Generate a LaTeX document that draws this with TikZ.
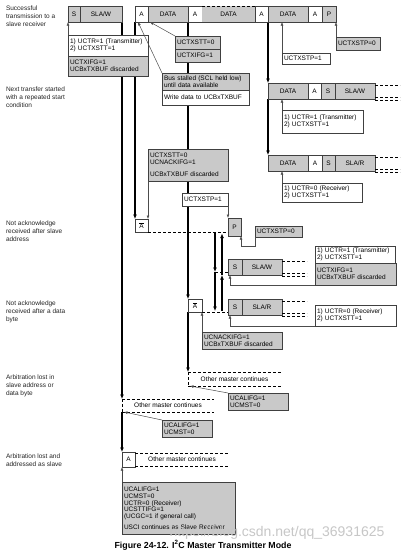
\documentclass[tikz,border=0pt]{standalone}
\usepackage{fontspec}
\setmainfont{Liberation Sans}
\usetikzlibrary{arrows.meta}
\pgfdeclarelayer{bg}
\pgfsetlayers{bg,main}
\newcommand\contlines[1]{%
  \draw[dsh] ([yshift=-2pt]#1.north east) -- ++(25,0);
  \draw[dsh] ([yshift=2pt]#1.south east) -- ++(25,0);
  \draw[dsh] ([yshift=-1pt]#1.south east) -- ++(25,0);}
\begin{document}
\begin{tikzpicture}[x=1pt,y=-1pt,
  every node/.style={font=\fontsize{6.5}{6.6}\selectfont, inner sep=0pt, outer sep=0pt},
  bx/.style={draw=black!75, line width=0.6pt, anchor=north west, align=left, inner xsep=2pt},
  gb/.style={bx, fill=black!21},
  wb/.style={bx, fill=white},
  hg/.style={draw=black!75, line width=0.6pt, anchor=north west, fill=black!21},
  hw/.style={draw=black!75, line width=0.6pt, anchor=north west, fill=white},
  main/.style={line width=1.3pt, -{Latex[length=4.5pt,width=4pt]}},
  thin/.style={line width=0.5pt, draw=black!70, -{Latex[length=3.5pt,width=2.8pt]}},
  dsh/.style={line width=0.8pt, dash pattern=on 3pt off 2pt},
  lbl/.style={anchor=north west, align=left, font=\fontsize{6.5}{8}\selectfont, text=black!85},
  band/.style={anchor=north west},
]
\begin{pgfonlayer}{bg}
\fill[white] (0,0) rectangle (410,552);
\end{pgfonlayer}
\useasboundingbox (0,0) rectangle (410,552);

% left labels
\node[lbl] (L1) at (6,5.3) {Successful\\transmission to a\\slave receiver};
\node[lbl] (L2) at (6,86.3) {Next transfer started\\with a repeated start\\condition};
\node[lbl] (L3) at (6,220.3) {Not acknowledge\\received after slave\\address};
\node[lbl] (L4) at (6,300.3) {Not acknowledge\\received after a data\\byte};
\node[lbl] (L5) at (6,374.3) {Arbitration lost in\\slave address or\\data byte};
\node[lbl] (L6) at (6,453.3) {Arbitration lost and\\addressed as slave};

% row 1
\node[hg, minimum width=12, minimum height=16] (r1s) at (68,6) {S};
\node[hg, minimum width=42, minimum height=16] (r1sla) at (80,6) {SLA/W};
\node[hw, minimum width=13, minimum height=16] (r1a1) at (135,6) {A};
\node[hg, minimum width=40, minimum height=16] (r1d1) at (148,6) {DATA};
\node[hw, minimum width=14, minimum height=16] (r1a2) at (188,6) {A};
\node[anchor=north west, fill=black!21, minimum width=53, minimum height=16] (r1d2) at (202,6) {DATA};
\draw[dsh] (r1d2.north west) -- (r1d2.north east);
\draw[line width=0.6pt, draw=black!75] (r1d2.south west) -- (r1d2.south east);
\node[hw, minimum width=13, minimum height=16] (r1a3) at (255,6) {A};
\node[hg, minimum width=40, minimum height=16] (r1d3) at (268,6) {DATA};
\node[hw, minimum width=14, minimum height=16] (r1a4) at (308,6) {A};
\node[hg, minimum width=14, minimum height=16] (r1p) at (322,6) {P};

% row 2
\node[hg, minimum width=40, minimum height=16] (r2d) at (268,83) {DATA};
\node[hw, minimum width=13, minimum height=16] (r2a) at (308,83) {A};
\node[hg, minimum width=14, minimum height=16] (r2s) at (321,83) {S};
\node[hg, minimum width=40, minimum height=16] (r2sla) at (335,83) {SLA/W};
\contlines{r2sla}

% row 3
\node[hg, minimum width=40, minimum height=16] (r3d) at (268,155) {DATA};
\node[hw, minimum width=14, minimum height=16] (r3a) at (308,155) {A};
\node[hg, minimum width=13, minimum height=16] (r3s) at (322,155) {S};
\node[hg, minimum width=40, minimum height=16] (r3sla) at (335,155) {SLA/R};
\contlines{r3sla}

% S SLA/W and S SLA/R rows
\node[hg, minimum width=14, minimum height=16] (s2) at (228,259) {S};
\node[hg, minimum width=40, minimum height=16] (s2sla) at (242,259) {SLA/W};
\contlines{s2sla}
\node[hg, minimum width=14, minimum height=16] (s3) at (228,299) {S};
\node[hg, minimum width=40, minimum height=16] (s3sla) at (242,299) {SLA/R};
\contlines{s3sla}

% small boxes
\node[hw, minimum width=13, minimum height=13] (abar1) at (135,219) {$\overline{\hbox{A}}$};
\node[hw, minimum width=14, minimum height=13] (abar2) at (188,299) {$\overline{\hbox{A}}$};
\node[hg, minimum width=13, minimum height=18] (p2) at (228,218) {P};
\node[hw, minimum width=13, minimum height=15] (a3) at (122,452) {A};

% annotation boxes
\node[wb, text width=76, minimum height=21] (n1a) at (68,35) {1) UCTR=1 (Transmitter)\\2) UCTXSTT=1};
\node[gb, text width=76, minimum height=20] (n1b) at (68,56) {UCTXIFG=1\\UCBxTXBUF discarded};
\node[gb, text width=41, minimum height=13] (n2a) at (175,36) {UCTXSTT=0};
\node[gb, text width=41, minimum height=13] (n2b) at (175,49) {UCTXIFG=1};
\node[gb, text width=83, minimum height=17] (n3a) at (162,73) {Bus stalled (SCL held low)\\until data available};
\node[wb, text width=83, minimum height=15] (n3b) at (162,90) {Write data to UCBxTXBUF};
\node[wb, text width=44, minimum height=11] (n4) at (282,53) {UCTXSTP=1};
\node[gb, text width=40, minimum height=13] (n5) at (336,37) {UCTXSTP=0};
\node[wb, text width=77, minimum height=23] (n6) at (282,110) {1) UCTR=1 (Transmitter)\\2) UCTXSTT=1};
\node[wb, text width=76, minimum height=19] (n7) at (282,183) {1) UCTR=0 (Receiver)\\2) UCTXSTT=1};
\node[gb, text width=76, minimum height=32] (n8) at (148,149) {UCTXSTT=0\\UCNACKIFG=1\\[6pt]UCBxTXBUF discarded};
\node[wb, text width=42, minimum height=13] (n9) at (182,193) {UCTXSTP=1};
\node[gb, text width=43, minimum height=11] (n10) at (255,226) {UCTXSTP=0};
\node[wb, text width=76, minimum height=17] (n11a) at (315,246) {1) UCTR=1 (Transmitter)\\2) UCTXSTT=1};
\node[gb, text width=77, minimum height=22] (n11b) at (315,263) {UCTXIFG=1\\UCBxTXBUF discarded};
\node[wb, text width=77, minimum height=21] (n12) at (315,305) {1) UCTR=0 (Receiver)\\2) UCTXSTT=1};
\node[gb, text width=76, minimum height=17] (n13) at (202,332) {UCNACKIFG=1\\UCBxTXBUF discarded};
\node[gb, text width=56, minimum height=17] (n14) at (228,393) {UCALIFG=1\\UCMST=0};
\node[gb, text width=46, minimum height=17] (n15) at (162,420) {UCALIFG=1\\UCMST=0};
\node[gb, text width=109, minimum height=52, font=\fontsize{6.5}{6.9}\selectfont] (n16) at (122,482) {UCALIFG=1\\UCMST=0\\UCTR=0 (Receiver)\\UCSTTIFG=1\\(UCGC=1 if general call)\\[3.5pt]USCI continues as Slave Receiver};

% bands
\node[band, minimum width=93, minimum height=14] (band1) at (188,372) {Other master continues};
\draw[dsh] (band1.north west) -- (band1.north east);
\draw[dsh] (band1.south west) -- (band1.south east);
\draw[dsh] (band1.north west) -- (band1.south west);
\node[band, minimum width=92, minimum height=13] (band2) at (122,399) {Other master continues};
\draw[dsh] (band2.north west) -- (band2.north east);
\draw[dsh] (band2.south west) -- (band2.south east);
\draw[dsh] (band2.north west) -- (band2.south west);
\node[band, minimum width=94, minimum height=13] (band3) at (135,453) {Other master continues};
\draw[dsh] (band3.north west) -- (band3.north east);
\draw[dsh] (band3.south west) -- (band3.south east);

% main flow lines (behind boxes)
\begin{pgfonlayer}{bg}
\draw[main] (r1sla.south east) -- (band2.north west);
\draw[main] (r1a1.south west) -- (abar1.north west);
\draw[main] (r1d1.south east) -- (abar2.north west);
\draw[main] (r1d3.south west) -- (r2d.north west);
\draw[main] (r2d.south west) -- (r3d.north west);
\draw[main] (abar2.south west) -- (band1.north west);
\draw[main] (band2.south west) -- (a3.north west);
\end{pgfonlayer}

% branch arrows
\coordinate (d0) at (215,232);
\coordinate (d1) at (215,272);
\coordinate (d2) at (215,311);
\coordinate (u0) at (222,233.5);
\coordinate (u1) at (222,275);
\coordinate (u2) at (222,311);
\draw[main] (d0) -- (d1);
\draw[main] (d1) -- (d2);
\draw[main] (u2) -- (u1);
\draw[main] (u1) -- (u0);
\draw[dsh] (abar1.south east) -- (abar1.south east -| p2.west);
\draw[dsh] (d1) -- (d1 -| s2.west);
\draw[dsh] (abar2.south east) -- (abar2.south east -| s3.west);

% thin annotation arrows
\draw[thin] (n1a.north west) -- (r1s.south west);
\draw[thin] (n2a.north west) -- ([xshift=2pt]r1d1.south west);
\draw[thin] (n3a.north west) -- ([xshift=3pt]r1a1.south west);
\draw[thin] (n4.north west) -- (n4.north west |- r1d3.south);
\draw[thin] (n5.north west) -- (n5.north west |- r1p.south);
\draw[thin] (n6.north west) -- (n6.north west |- r2d.south);
\draw[thin] (n7.north west) -- (n7.north west |- r3d.south);
\draw[thin] (n8.south west) -- (abar1.north east);
\draw[thin] (n9.south east) -- (n9.south east |- p2.north);
\draw[thin] (n10.south west) -- ++(0,9) -| (p2.south east);
\draw[thin] (n11b.south west) -| ([xshift=2pt]s2.south west);
\draw[thin] (n12.south west) -| ([xshift=2pt]s3.south west);
\draw[thin] (n13.north west) -- (abar2.south east);
\draw[thin] (n14.north west) -- ([xshift=2pt]band1.south west);
\draw[thin] (n15.north west) -- ([xshift=2pt]band2.south west);
\draw[thin] (n16.north west) -- (a3.south west);

% caption and watermark
\node[font=\bfseries\fontsize{8.8}{10}\selectfont] (cap) at (203,545) {Figure 24-12. I\textsuperscript{2}C Master Transmitter Mode};
\node[font=\fontsize{14}{16}\selectfont, text=black!22] (wm) at (277,533) {https://blog.csdn.net/qq\_36931625};
\end{tikzpicture}
\end{document}
